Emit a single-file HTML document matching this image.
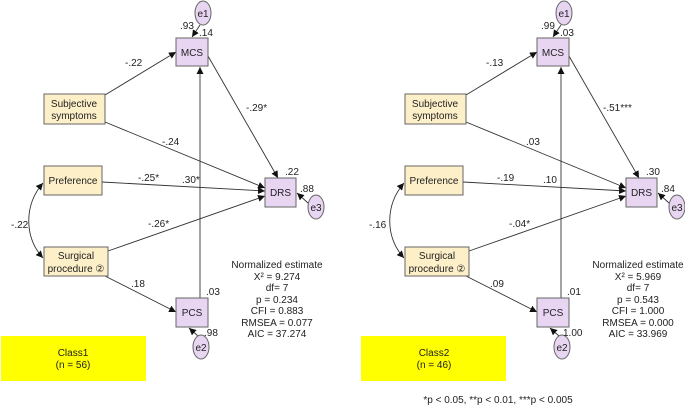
<!DOCTYPE html>
<html><head><meta charset="utf-8"><style>
html,body{margin:0;padding:0;background:#fff}
svg{display:block}
text{font-family:"Liberation Sans",Arial,sans-serif;font-size:10px;fill:#222}
.b{fill:#fdefc8;stroke:#666;stroke-width:1}
.p{fill:#e8d5f2;stroke:#666;stroke-width:1}
.l{stroke:#333;stroke-width:0.9;fill:none}
</style></head><body>
<svg width="685" height="407" viewBox="0 0 685 407" xmlns="http://www.w3.org/2000/svg">
<defs>
<marker id="a" viewBox="0 0 10 10" refX="10" refY="5" markerWidth="7" markerHeight="7" orient="auto-start-reverse" markerUnits="userSpaceOnUse"><path d="M0,0L10,5L0,10z" fill="#111"/></marker>
</defs>

<g id="L">
<line class="l" x1="200" y1="25" x2="192" y2="37" marker-end="url(#a)"/>
<line class="l" x1="105" y1="95" x2="176" y2="52" marker-end="url(#a)"/>
<line class="l" x1="105" y1="122" x2="265" y2="188" marker-end="url(#a)"/>
<line class="l" x1="208" y1="56" x2="278" y2="178" marker-end="url(#a)"/>
<line class="l" x1="102" y1="182" x2="265" y2="191" marker-end="url(#a)"/>
<line class="l" x1="108" y1="251" x2="265" y2="196" marker-end="url(#a)"/>
<line class="l" x1="105" y1="276" x2="176" y2="312" marker-end="url(#a)"/>
<line class="l" x1="200" y1="298" x2="200" y2="67" marker-end="url(#a)"/>
<line class="l" x1="198" y1="336" x2="189" y2="328" marker-end="url(#a)"/>
<line class="l" x1="308" y1="203" x2="297" y2="193" marker-end="url(#a)"/>
<path class="l" d="M43,183 C24,205 24,237 43,258" marker-start="url(#a)" marker-end="url(#a)"/>
<rect class="p" x="176" y="38" width="32" height="28"/>
<rect class="b" x="44" y="94" width="61" height="30"/>
<rect class="b" x="44" y="166" width="58" height="29"/>
<rect class="p" x="265" y="178" width="31" height="29"/>
<rect class="b" x="44" y="247" width="64" height="29"/>
<rect class="p" x="176" y="298" width="32" height="29"/>
<ellipse class="p" cx="203" cy="13" rx="8" ry="12"/>
<ellipse class="p" cx="316" cy="207" rx="8" ry="12"/>
<ellipse class="p" cx="201" cy="347" rx="8" ry="12"/>
<g text-anchor="middle">
<text x="192" y="56">MCS</text>
<text x="74" y="107">Subjective</text>
<text x="74" y="119">symptoms</text>
<text x="73" y="184">Preference</text>
<text x="280.5" y="196">DRS</text>
<text x="76" y="259">Surgical</text>
<text x="76" y="272">procedure ②</text>
<text x="192" y="316">PCS</text>
<text x="203" y="17">e1</text>
<text x="316" y="211">e3</text>
<text x="201" y="351">e2</text>
</g>
</g>
<use href="#L" transform="translate(361,0)"/>

<rect x="1" y="336" width="145" height="45" fill="#ffff00"/>
<rect x="361" y="336" width="145" height="45" fill="#ffff00"/>

<g text-anchor="middle">
<text x="73" y="356">Class1</text><text x="73" y="368">(n = 56)</text>
<text x="434" y="356">Class2</text><text x="434" y="368">(n = 46)</text>
<text x="277" y="268">Normalized estimate</text>
<text x="277" y="280">X² = 9.274</text>
<text x="277" y="291">df= 7</text>
<text x="277" y="303">p = 0.234</text>
<text x="277" y="314">CFI = 0.883</text>
<text x="277" y="326">RMSEA = 0.077</text>
<text x="277" y="337">AIC = 37.274</text>
<text x="638" y="268">Normalized estimate</text>
<text x="638" y="280">X² = 5.969</text>
<text x="638" y="291">df= 7</text>
<text x="638" y="303">p = 0.543</text>
<text x="638" y="314">CFI = 1.000</text>
<text x="638" y="326">RMSEA = 0.000</text>
<text x="638" y="337">AIC = 33.969</text>
<text x="498" y="403">*p &lt; 0.05, **p &lt; 0.01, ***p &lt; 0.005</text>
</g>

<!-- left labels -->
<text x="125" y="66">-.22</text>
<text x="246" y="111">-.29*</text>
<text x="162" y="145">-.24</text>
<text x="138" y="181">-.25*</text>
<text x="182" y="183">.30*</text>
<text x="285" y="175">.22</text>
<text x="300" y="192">.88</text>
<text x="180" y="29">.93</text>
<text x="199" y="36">.14</text>
<text x="11" y="228">-.22</text>
<text x="148" y="227">-.26*</text>
<text x="131" y="287">.18</text>
<text x="206" y="295">.03</text>
<text x="204" y="336">.98</text>
<!-- right labels -->
<text x="486" y="66">-.13</text>
<text x="603" y="111">-.51***</text>
<text x="526" y="145">.03</text>
<text x="497" y="181">-.19</text>
<text x="543" y="183">.10</text>
<text x="646" y="175">.30</text>
<text x="661" y="192">.84</text>
<text x="541" y="29">.99</text>
<text x="560" y="36">.03</text>
<text x="369" y="228">-.16</text>
<text x="509" y="227">-.04*</text>
<text x="490" y="287">.09</text>
<text x="567" y="295">.01</text>
<text x="563" y="336">1.00</text>
</svg>
</body></html>
